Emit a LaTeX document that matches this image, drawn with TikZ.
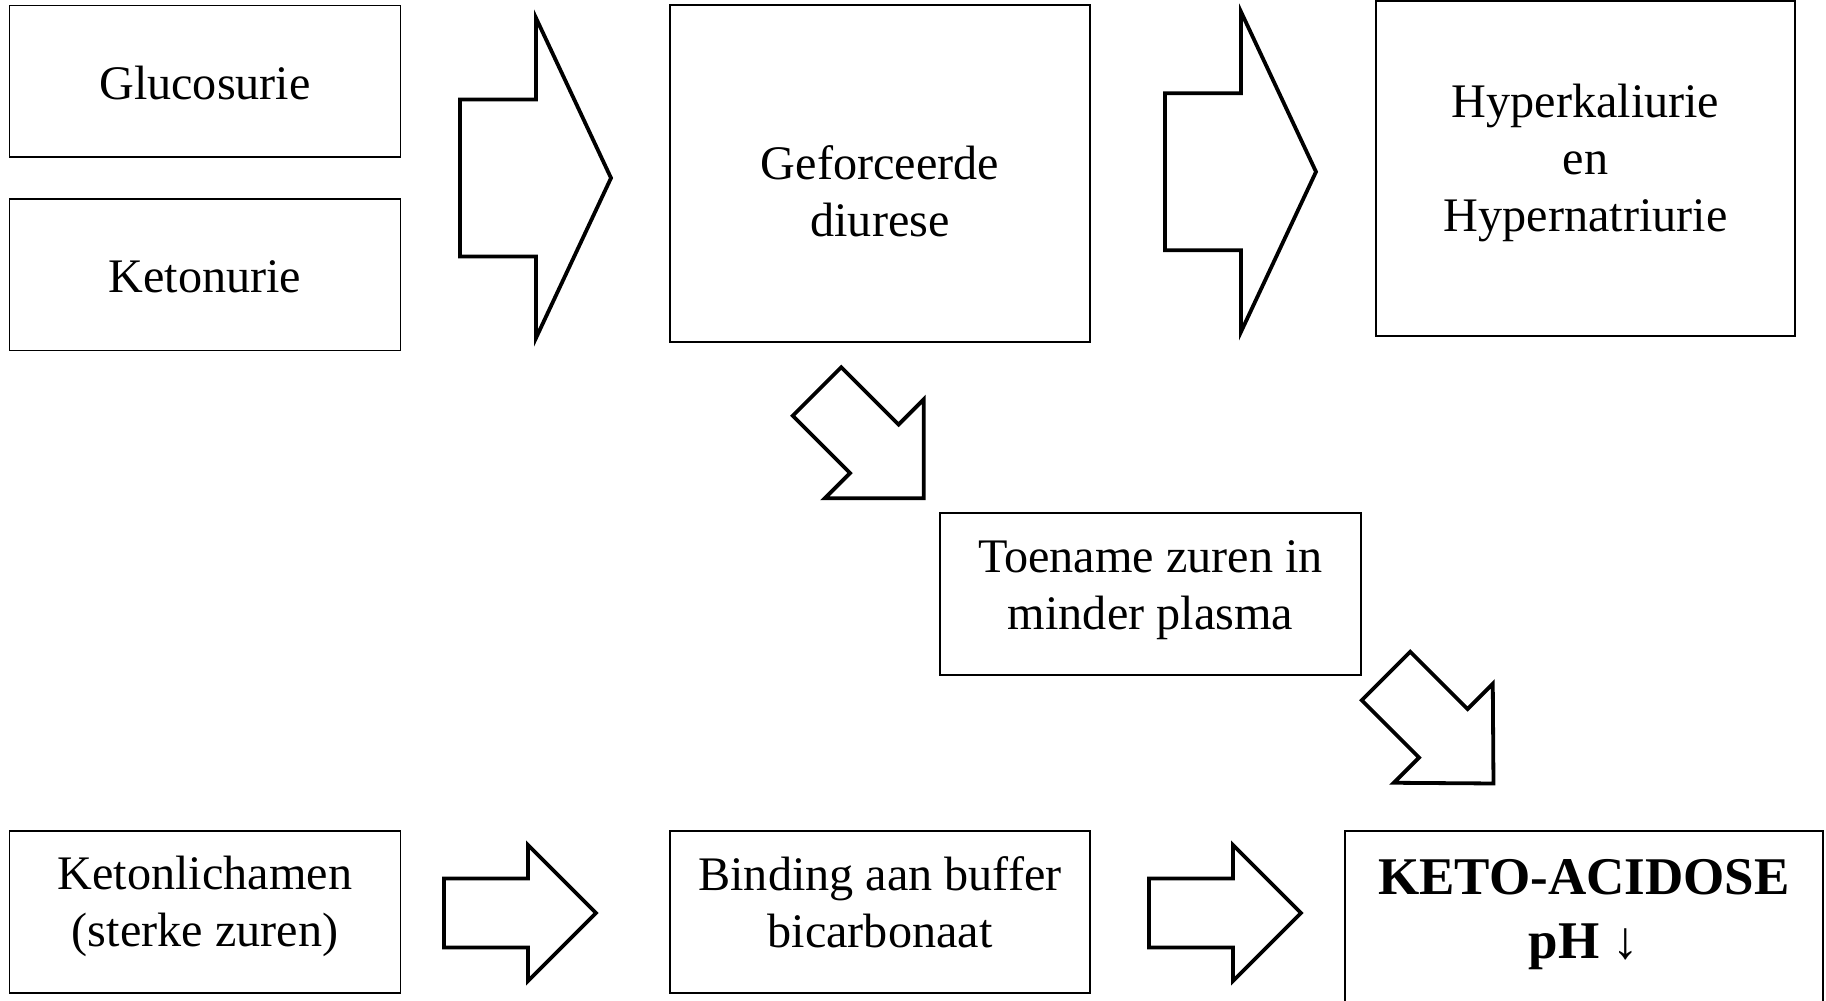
\documentclass[tikz,border=0pt]{standalone}
\usepackage{fontspec}
\setmainfont{Liberation Serif}

\tikzset{
  box/.style={draw, line width=1.5pt, inner sep=0pt},
  txt/.style={align=center, font=\fontsize{48.2}{57}\selectfont},
  bigtxt/.style={align=center, font=\bfseries\fontsize{53}{64}\selectfont},
  arrowline/.style={draw, line width=3.8pt, fill=white},
  pics/fatarrow/.style n args={4}{code={
    \draw[arrowline] (0,-#1) -- (#3,-#1) -- (#3,-#2) -- (#4,0) -- (#3,#2) -- (#3,#1) -- (0,#1) -- cycle;
  }}
}

\begin{document}
\begin{tikzpicture}[x=1pt, y=-1pt]
\useasboundingbox (0,0) rectangle (1826,1001);

% top row
\node[box, minimum width=391pt, minimum height=151.5pt] (gluc) at (205,81.25) {};
\node[box, minimum width=391pt, minimum height=151.5pt] (ketonu) at (205,274.75) {};
\node[box, minimum width=420pt, minimum height=337pt] (diurese) at (880,173.5) {};
\node[box, minimum width=419pt, minimum height=335pt] (hyper) at (1585.5,168.5) {};

% middle
\node[box, minimum width=421pt, minimum height=162pt] (toename) at (1150.5,594) {};

% bottom row
\node[box, minimum width=391pt, minimum height=162pt] (ketonl) at (205,912) {};
\node[box, minimum width=420pt, minimum height=162pt] (binding) at (880,912) {};
\node[box, minimum width=478pt, minimum height=180pt] (acidose) at (1584,921) {};

% labels
\node[txt] (gluc-t) at (205,83) {Glucosurie};
\node[txt] (ketonu-t) at (205,277) {Ketonurie};
\node[txt] (diurese-t) at (880,191.5) {Geforceerde\\diurese};
\node[txt] (hyper-t) at (1585.5,162.5) {Hyperkaliurie\\en\\Hypernatriurie};
\node[txt] (toename-t) at (1150.5,590) {Toename zuren in\\minder plasma};
\node[txt] (ketonl-t) at (205,906.5) {Ketonlichamen\\(sterke zuren)};
\node[txt] (binding-t) at (880,902.5) {Binding aan buffer\\bicarbonaat};
\node[bigtxt] (acidose-t) at (1584,915) {KETO-ACIDOSE\\pH ↓};

% block arrows
\pic at (460,178) {fatarrow={78.5}{160}{76}{151}};
\pic at (1165,171.8) {fatarrow={78.5}{160}{76}{151}};
\pic at (444,913) {fatarrow={34.5}{68}{84}{152}};
\pic at (1149,913) {fatarrow={34.5}{68}{84}{152}};
\pic[rotate=-45] at (817,391.5) {fatarrow={34.3}{70}{81}{151}};
\pic[rotate=-45] at (1386,676) {fatarrow={34.3}{70}{81}{152}};

\end{tikzpicture}
\end{document}
